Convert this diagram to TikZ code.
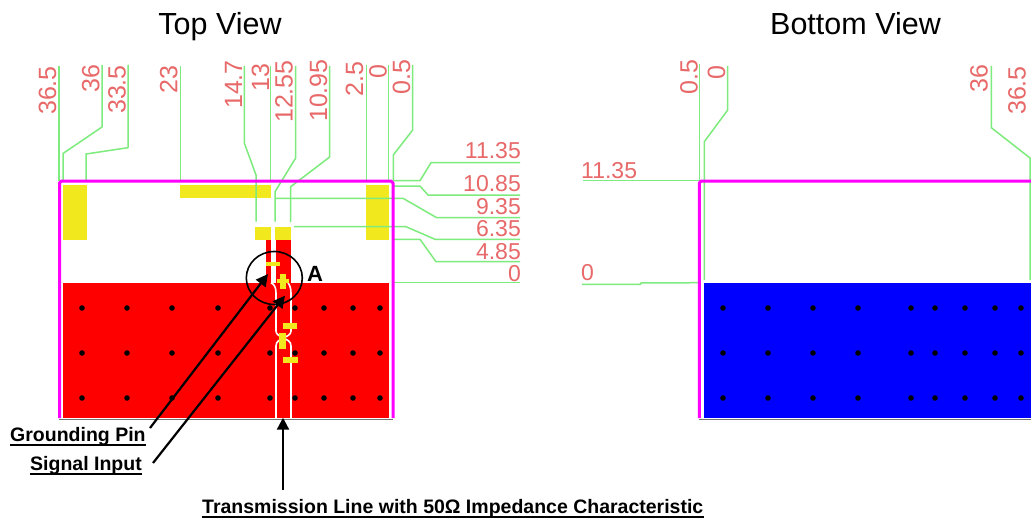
\documentclass[tikz,border=0pt]{standalone}
\usepackage{fontspec}
\setmainfont{Liberation Sans}
\usetikzlibrary{arrows.meta}
\definecolor{dimred}{RGB}{232,105,105}
\definecolor{dimgreen}{RGB}{125,235,125}
\definecolor{padyellow}{RGB}{242,232,30}
\definecolor{edgemag}{RGB}{255,0,255}
\definecolor{purered}{RGB}{255,0,0}
\definecolor{pureblue}{RGB}{0,0,255}
\tikzset{
  dimh/.style={inner sep=0pt,anchor=base east,text=dimred,font=\fontsize{23}{23}\selectfont},
  dimw/.style={inner sep=0pt,anchor=base west,text=dimred,font=\fontsize{23}{23}\selectfont},
  dimv/.style={inner sep=0pt,anchor=base west,rotate=90,text=dimred,font=\fontsize{25}{25}\selectfont},
  ext/.style={draw=dimgreen,line width=1.5pt,line join=round},
  title/.style={inner sep=0pt,anchor=base,font=\fontsize{30.5}{30.5}\selectfont},
  callout/.style={inner sep=0pt,font=\bfseries\fontsize{19.5}{19.5}\selectfont},
  pad/.style={fill=padyellow,draw=none},
  cu/.style={fill=purered,draw=none},
  gap/.style={draw=white,line width=1.6pt},
  edge/.style={draw=edgemag,line width=3pt,line join=bevel},
  baseline rule/.style={draw=black!55,line width=0.8pt},
  leader/.style={draw=black,line width=2.2pt,-{Triangle[length=12pt,width=12pt]}},
  under/.style={draw=black,line width=1.8pt},
  via/.style={fill=black,draw=none}
}
\begin{document}
\begin{tikzpicture}[x=1pt,y=-1pt]
\useasboundingbox (0,0) rectangle (1031,519);
\fill[white] (0,0) rectangle (1031,519);
% titles
\node[title] (t1) at (220,35) {Top View};
\node[title] (t2) at (855.5,35) {Bottom View};
% ---- top view copper
\fill[cu] (62.5,282.7) rectangle (388.7,418);
\fill[cu] (266,240) rectangle (271,283);
\fill[cu] (275.5,240) rectangle (290.5,283);
% yellow
\fill[pad] (62.5,185) rectangle (86.7,240);
\fill[pad] (180,185) rectangle (271,198);
\fill[pad] (366,185) rectangle (388.7,240);
\fill[pad] (255,226.7) rectangle (271,240);
\fill[pad] (275,226.7) rectangle (291,240);
% trace outlines
\draw[gap] (271,283) .. controls (274,284) and (276,287) .. (276,293) -- (276,331)
  .. controls (276,335) and (280,336) .. (283.5,338)
  .. controls (280,340) and (276,341) .. (276,346) -- (276,418);
\draw[gap] (288,283) .. controls (289,284) and (291,287) .. (291,293) -- (291,331)
  .. controls (291,335) and (287,336) .. (283.5,338)
  .. controls (287,340) and (291,341) .. (291,346) -- (291,418);
% small yellow marks
\fill[pad] (266,261.7) rectangle (280,265.7);
\fill[pad] (280,274) rectangle (286,289);
\fill[pad] (277,279) rectangle (289,283);
\fill[pad] (282.7,323) rectangle (297.3,329);
\fill[pad] (279,333) rectangle (286,349);
\fill[pad] (282.7,356.7) rectangle (298,362.7);
% ---- bottom view copper
\fill[pureblue] (704,283) rectangle (1031,418);
% vias
\foreach \yy in {308,353,398}{
  \foreach \xx in {82,127,172,218,270,295,324,353,380}{
    \fill[via] (\xx,\yy) circle (2.8pt);
  }
  \foreach \xx in {723,768,813,858,911,935,965,995,1021}{
    \fill[via] (\xx,\yy) circle (2.8pt);
  }
}
% outlines
\draw[baseline rule] (59,419.3) -- (393,419.3);
\draw[baseline rule] (699,419.3) -- (1031,419.3);
% green extension lines top view
\draw[ext] (59,66) -- (59,181);
\draw[ext] (102,65) -- (102,127) -- (63,153.5) -- (63,181);
\draw[ext] (128,65) -- (128,147.7) -- (86,154) -- (86,181);
\draw[ext] (180.7,66) -- (180.7,181);
\draw[ext] (244.3,66) -- (244.3,143) -- (256,175) -- (256,221.7);
\draw[ext] (270.7,66) -- (270.7,181);
\draw[ext] (295.7,66) -- (295.7,158) -- (275,191.7) -- (275,221.7);
\draw[ext] (329.7,66) -- (329.7,157) -- (290.7,186.7) -- (290.7,222);
\draw[ext] (366.3,65) -- (366.3,181);
\draw[ext] (388.3,65) -- (388.3,181);
\draw[ext] (412.7,65) -- (412.7,130) -- (393.3,155) -- (393.3,181);
\draw[ext] (393,180.7) -- (420,180.7) -- (431,162.7) -- (520,162.7);
\draw[ext] (393,186) -- (420,186) -- (428,195) -- (520,195);
\draw[ext] (275,198.3) -- (403,198.3) -- (436.7,217.7) -- (520,217.7);
\draw[ext] (294,226.7) -- (406,226.7) -- (435,239.3) -- (520,239.3);
\draw[ext] (393,239.3) -- (420,239.3) -- (436,261.7) -- (520,261.7);
\draw[ext] (393,282.7) -- (520,282.7);
% green extension lines bottom view
\draw[ext] (699.7,64) -- (699.7,180.7) -- (582.7,180.7);
\draw[ext] (727.7,66) -- (727.7,110) -- (704.3,141.7) -- (704.3,280);
\draw[ext] (991.3,66) -- (991.3,127.7) -- (1030,158) -- (1030,280);
\draw[ext] (582,284.3) -- (640.7,284.3) -- (640.7,283) -- (699,282.7);
% board edges
\draw[edge] (59.5,418) -- (59.5,183) -- (61.5,181) -- (391,181) -- (393,183) -- (393,418);
\draw[edge] (699.3,418) -- (699.3,183) -- (701.3,181) -- (1031,181);
% labels top view
\node[dimv] (a1) at (56,115) {36.5};
\node[dimv] (a2) at (99.3,93) {36};
\node[dimv] (a3) at (125.7,114) {33.5};
\node[dimv] (a4) at (177.3,94) {23};
\node[dimv] (a5) at (242,109) {14.7};
\node[dimv] (a6) at (269,92) {13};
\node[dimv] (a7) at (292.7,123) {12.55};
\node[dimv] (a8) at (327,122) {10.95};
\node[dimv] (a9) at (363,97) {2.5};
\node[dimv] (a10) at (386.7,79) {0};
\node[dimv] (a11) at (410,95) {0.5};
\node[dimh] (b1) at (521,158) {11.35};
\node[dimh] (b2) at (521,191.7) {10.85};
\node[dimh] (b3) at (521,214) {9.35};
\node[dimh] (b4) at (521,236) {6.35};
\node[dimh] (b5) at (521,259) {4.85};
\node[dimh] (b6) at (521,281) {0};
% labels bottom view
\node[dimv] (c1) at (697.7,95) {0.5};
\node[dimv] (c2) at (725,80) {0};
\node[dimv] (c3) at (987.7,93) {36};
\node[dimv] (c4) at (1025.5,115) {36.5};
\node[dimw] (d1) at (581,178) {11.35};
\node[dimw] (d2) at (581,280.7) {0};
% circle A
\draw[black,line width=1.6pt] (274.3,278) ellipse [x radius=28,y radius=26.5];
\node[inner sep=0pt,anchor=base west,font=\bfseries\fontsize{22}{22}\selectfont] (A) at (307,281) {A};
% callouts
\node[callout,anchor=base west] (gp) at (10,441) {Grounding Pin};
\node[callout,anchor=base west] (si) at (30,470) {Signal Input};
\node[callout,anchor=base west] (tl) at (202,513) {Transmission Line with 50Ω Impedance Characteristic};
\draw[under] (gp.south west) -- (gp.south east);
\draw[under] (si.south west) -- (si.south east);
\draw[under] (tl.south west) -- (tl.south east);
\coordinate (gpt) at (268,274);
\coordinate (sit) at (285,295.7);
\coordinate (tlt) at (283,417.7);
\coordinate (gps) at (150,428);
\coordinate (sis) at (153,463);
\coordinate (tls) at (283,490);
\draw[leader] (gps) -- (gpt);
\draw[leader] (sis) -- (sit);
\draw[leader] (tls) -- (tlt);
\end{tikzpicture}
\end{document}
